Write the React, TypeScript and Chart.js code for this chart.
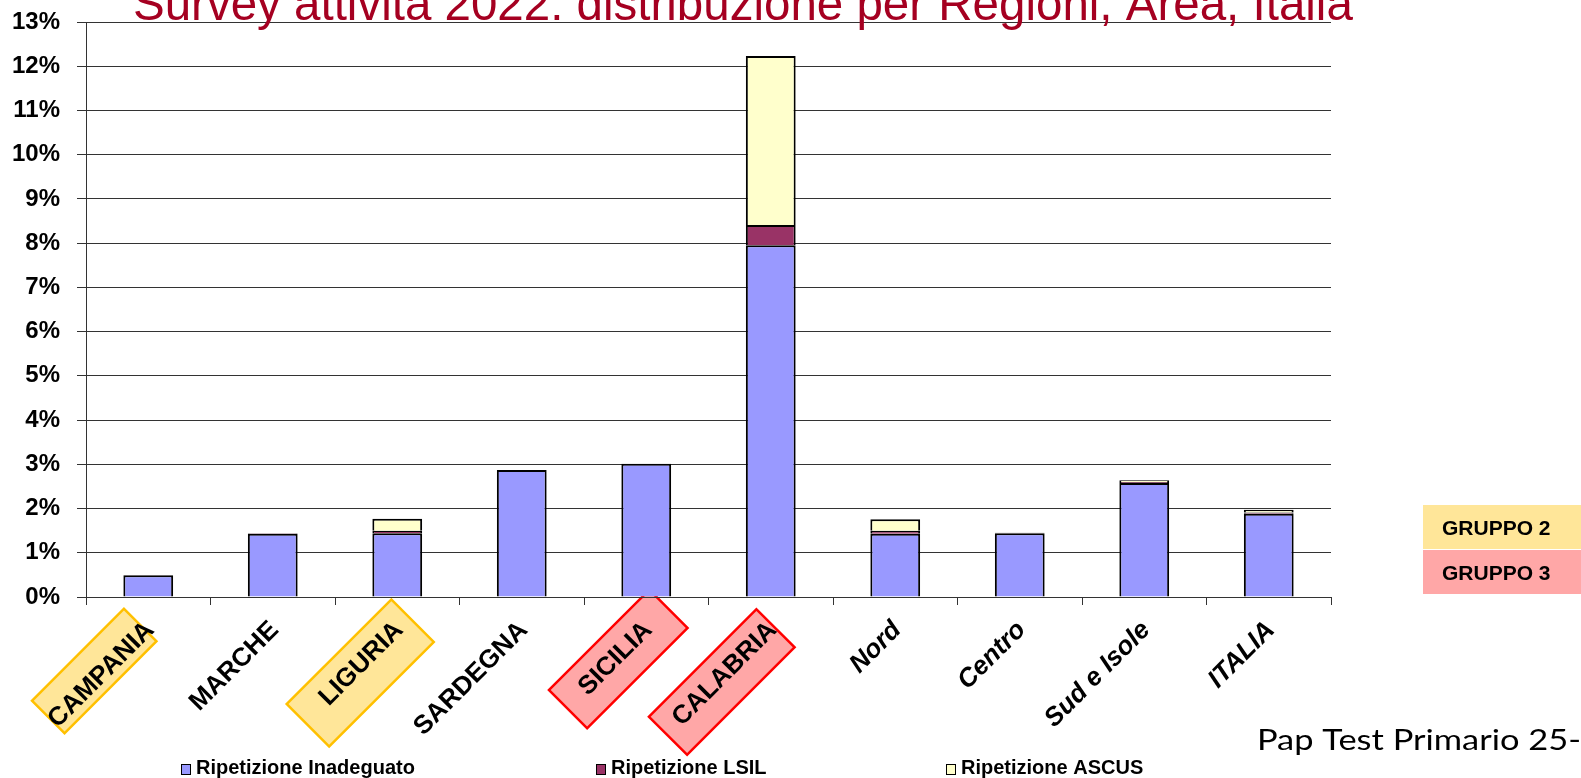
import React, { useEffect, useRef } from 'react';
import { Chart, registerables } from 'chart.js';

Chart.register(...registerables);

// ---------- data ----------
const categories = ['CAMPANIA', 'MARCHE', 'LIGURIA', 'SARDEGNA', 'SICILIA', 'CALABRIA', 'Nord', 'Centro', 'Sud e Isole', 'ITALIA'];
const inadeguato = [0.49, 1.43, 1.44, 2.87, 3.01, 7.95, 1.43, 1.44, 2.58, 1.88];
const lsil = [0.01, 0.01, 0.06, 0, 0, 0.46, 0.07, 0.01, 0.02, 0.03];
const ascus = [0, 0, 0.27, 0, 0, 3.82, 0.26, 0, 0.04, 0.06];
const seriesLabels = ['Ripetizione Inadeguato', 'Ripetizione LSIL', 'Ripetizione ASCUS'];
const seriesColors = ['#9999FF', '#993366', '#FFFFCC'];
const yMin = 0;
const yMax = 13;
const yStep = 1;
const italicCategories = ['Nord', 'Centro', 'Sud e Isole', 'ITALIA'];
const titleText = 'Survey attività 2022: distribuzione per Regioni, Area, Italia';
const groupLabels = ['GRUPPO 2', 'GRUPPO 3'];
const groupFills = ['#FFE699', '#FFA7A7'];
const groupStrokes = ['#FFC000', '#FF0000'];
const highlightCats = ['CAMPANIA', 'LIGURIA', 'SICILIA', 'CALABRIA'];
const highlightGroup = [0, 0, 1, 1];
const footerText = 'Pap Test Primario 25-6';

const FONT = "'Liberation Sans', Arial, sans-serif";
const X_TICK_LEN = 8;
const X_TICK_PAD = 10;
const X_LABEL_OFFSET = 2;
const X_FONT_SIZE = 26;

// highlight boxes relative to category centre / axis top: [dx, dy, length, height]
const highlightShapes = [
  [-54, 74, 130, 46],
  [-37, 76, 148, 60],
  [-28, 62, 142, 54],
  [-49, 85, 152, 54],
];

const decorPlugin = {
  id: 'decor',
  beforeDraw(chart: any) {
    const ctx = chart.ctx;
    const xs = chart.scales.x;
    ctx.save();
    highlightCats.forEach((cat, j) => {
      const i = categories.indexOf(cat);
      const [dx, dy, L, H] = highlightShapes[j];
      const cx = xs.getPixelForTick(i) + dx;
      const cy = xs.top + dy;
      const g = highlightGroup[j];
      ctx.save();
      ctx.translate(cx, cy);
      ctx.rotate(-Math.PI / 4);
      ctx.beginPath();
      ctx.rect(-L / 2, -H / 2, L, H);
      ctx.fillStyle = groupFills[g];
      ctx.fill();
      ctx.lineWidth = 2.5;
      ctx.strokeStyle = groupStrokes[g];
      ctx.stroke();
      ctx.restore();
    });
    ctx.restore();
  },
  afterDraw(chart: any) {
    const ctx = chart.ctx;
    ctx.save();
    // title (partly outside the top of the canvas, as in the source slide)
    ctx.font = `47.5px ${FONT}`;
    ctx.fillStyle = '#A50021';
    ctx.textAlign = 'left';
    ctx.textBaseline = 'alphabetic';
    ctx.fillText(titleText, 133, 20);

    // legend
    const legendX = [181, 596, 946];
    ctx.font = `bold 20px ${FONT}`;
    seriesLabels.forEach((lbl, i) => {
      ctx.fillStyle = seriesColors[i];
      ctx.fillRect(legendX[i], 764, 9, 10);
      ctx.strokeStyle = '#000';
      ctx.lineWidth = 1;
      ctx.strokeRect(legendX[i] + 0.5, 764.5, 9, 10);
      ctx.fillStyle = '#000';
      ctx.fillText(lbl, legendX[i] + 15, 774);
    });

    // group key
    const gy = [505, 550];
    groupLabels.forEach((lbl, i) => {
      ctx.fillStyle = groupFills[i];
      ctx.fillRect(1423, gy[i], 160, 44);
      ctx.fillStyle = '#000';
      ctx.font = `bold 21px ${FONT}`;
      ctx.fillText(lbl, 1442, gy[i] + 30);
    });

    // footer
    ctx.font = `28px Lato, 'Noto Sans', sans-serif`;
    const target = 324;
    const mw = ctx.measureText('Pap Test Primario 25-').width;
    const sx = target / mw;
    ctx.translate(1257, 750);
    ctx.scale(sx, 1);
    ctx.fillStyle = '#000';
    ctx.fillText(footerText, 0, 0);
    ctx.restore();
  },
};

export default function App() {
  const ref = useRef<HTMLCanvasElement | null>(null);

  useEffect(() => {
    if (!ref.current) return;
    const chart = new Chart(ref.current, {
      type: 'bar',
      data: {
        labels: categories,
        datasets: [
          { label: seriesLabels[0], data: inadeguato, backgroundColor: seriesColors[0], borderColor: '#000', borderWidth: 2 },
          { label: seriesLabels[1], data: lsil, backgroundColor: seriesColors[1], borderColor: '#000', borderWidth: 2 },
          { label: seriesLabels[2], data: ascus, backgroundColor: seriesColors[2], borderColor: '#000', borderWidth: 2 },
        ],
      },
      options: {
        responsive: false,
        animation: false,
        devicePixelRatio: 1,
        layout: { padding: { top: 22, right: 250, left: 0, bottom: 0 } },
        datasets: { bar: { categoryPercentage: 1, barPercentage: 0.4 } },
        plugins: {
          legend: { display: false },
          title: { display: false },
          tooltip: { enabled: false },
        },
        scales: {
          x: {
            stacked: true,
            offset: true,
            grid: { display: true, drawOnChartArea: false, drawTicks: true, tickLength: X_TICK_LEN, offset: true, color: '#333' },
            border: { display: true, color: '#333', width: 1 },
            ticks: {
              autoSkip: false,
              minRotation: 45,
              maxRotation: 45,
              padding: X_TICK_PAD,
              labelOffset: X_LABEL_OFFSET,
              color: '#000',
              font: (c: any) => ({
                family: FONT,
                size: X_FONT_SIZE,
                weight: 'bold',
                style: italicCategories.includes(categories[c.index]) ? 'italic' : 'normal',
              }),
            },
            afterFit: (s: any) => { s.height = 181; },
          },
          y: {
            stacked: true,
            min: yMin,
            max: yMax,
            grid: { color: '#333', lineWidth: 1, tickLength: 9 },
            border: { display: true, color: '#333', width: 1 },
            ticks: {
              stepSize: yStep,
              padding: 17,
              color: '#000',
              font: { family: FONT, size: 24, weight: 'bold' },
              callback: (v: any) => `${v}%`,
            },
            afterFit: (s: any) => { s.width = 86; s.paddingTop = 0; s.paddingBottom = 0; },
          },
        },
      },
      plugins: [decorPlugin],
    });
    return () => chart.destroy();
  }, []);

  return (
    <div style={{ position: 'fixed', left: 0, top: 0, width: 1581, height: 778, background: '#fff', overflow: 'hidden' }}>
      <canvas ref={ref} width={1581} height={778} style={{ display: 'block' }} />
    </div>
  );
}
